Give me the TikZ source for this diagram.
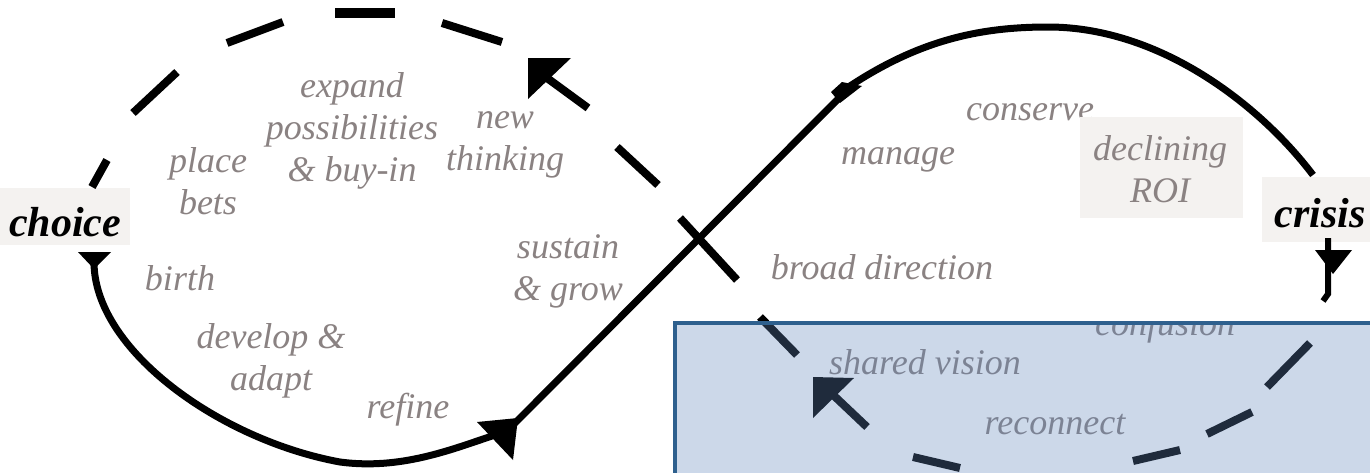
\documentclass[tikz,border=0pt]{standalone}
\usepackage{fontspec}
\setmainfont{Liberation Serif}
\definecolor{lbl}{RGB}{138,130,130}
\definecolor{boxbg}{RGB}{244,242,240}
\definecolor{ovfill}{RGB}{97,135,189}
\definecolor{ovline}{RGB}{46,96,142}
\begin{document}
\begin{tikzpicture}[x=1pt,y=-1pt,
  lab/.style={text=lbl, font=\fontsize{36}{42}\selectfont\itshape, align=center, inner sep=0pt},
  keylab/.style={text=black, font=\fontsize{42}{46}\selectfont\bfseries\itshape, inner sep=0pt},
  curve/.style={line width=7pt, black},
  dsh/.style={line width=8pt, black},
  head/.style={fill=black}]
\useasboundingbox (0,0) rectangle (1370,472);
\clip (0,0) rectangle (1370,472);
\fill[white] (0,0) rectangle (1370,472);
% label backgrounds
\fill[boxbg] (0,188) rectangle (130,245);
\fill[boxbg] (1262,177) rectangle (1370,242);
% solid curves
\draw[curve] (94,262) .. controls (94,350) and (220,440) .. (340,462)
  .. controls (400,470) and (450,450) .. (492,436);
\draw[curve] (513,425) -- (852,85);
\draw[curve] (850,86) .. controls (920,40) and (980,27) .. (1048,27)
  .. controls (1160,27) and (1260,105) .. (1313,175);
% solid arrowheads
\fill[head] (477,422) -- (518,418) -- (513,460) -- cycle;
\fill[head] (78,252) -- (111,252) -- (94,269) -- cycle;
\fill[head] (831,92) -- (842,82) -- (862,86) -- (840,103) -- cycle;
\fill[head] (1315,250) -- (1352,250) -- (1333,274) -- cycle;
\draw[line width=6pt] (1328,238) -- (1328,294) -- (1323,301);
% dashed loop
\draw[dsh] (107,160) -- (92,187);
\draw[dsh] (133,113) -- (177,72);
\draw[dsh] (227,43) -- (283,22);
\draw[line width=10pt] (335,13) -- (395,13);
\draw[dsh] (442,23) -- (502,42);
\draw[dsh] (547,78) -- (588,108);
\fill[head] (528,58) -- (571,58) -- (528,99) -- cycle;
\draw[dsh] (617,147) -- (658,185);
\draw[dsh] (680,218) -- (737,280);
\draw[dsh] (760,317) -- (797,355);
\draw[dsh] (830,392) -- (867,427);
\fill[head] (813,377) -- (854,378) -- (813,418) -- cycle;
\draw[dsh] (913,457) -- (960,468);
\draw[dsh] (1133,461) -- (1180,450);
\draw[dsh] (1207,434) -- (1252,412);
\draw[dsh] (1267,387) -- (1310,343);
% labels
\node[lab] (conserve) at (1030,112) {conserve};
\fill[boxbg] (1080,117) rectangle (1243,218);
\node[lab] (declining) at (1160,169) {declining\\ROI};
\node[lab] (expand) at (352,131) {expand\\possibilities\\\& buy-in};
\node[lab] (place) at (208,181) {place\\bets};
\node[lab] (new) at (505,145) {new\\thinking};
\node[keylab] (choice) at (65,222) {choice};
\node[lab] (birth) at (180,278) {birth};
\node[lab] (develop) at (271,361) {develop \&\\adapt};
\node[lab] (refine) at (408,410) {refine};
\node[lab] (sustain) at (568,271) {sustain\\\& grow};
\node[lab] (manage) at (898,160) {manage};
\node[keylab] (crisis) at (1320,213) {crisis};
\node[lab] (broad) at (882,267) {broad direction};
\node[lab] (shared) at (925,362) {shared vision};
\node[lab] (reconnect) at (1055,425) {reconnect};
\begin{scope}
\clip (1050,325) rectangle (1300,370);
\node[lab] (confusion) at (1165,327) {confusion};
\end{scope}
% overlay panel
\draw[ovline, line width=4.5pt, fill=ovfill, fill opacity=0.32] (675,323) rectangle (1400,500);
\end{tikzpicture}
\end{document}
